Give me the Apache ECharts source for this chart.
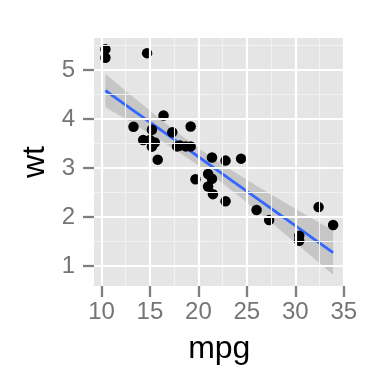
<!DOCTYPE html>
<html><head><meta charset="utf-8">
<script src="https://cdn.jsdelivr.net/npm/echarts@6/dist/echarts.min.js"></script>
<style>html,body{margin:0;padding:0;background:#fff}#c{width:384px;height:384px}</style>
</head><body><div id="c"></div>
<script>
// mtcars: mpg vs wt
const mpg = [21,21,22.8,21.4,18.7,18.1,14.3,24.4,22.8,19.2,17.8,16.4,17.3,15.2,10.4,10.4,14.7,32.4,30.4,33.9,21.5,15.5,15.2,13.3,19.2,27.3,26,30.4,15.8,19.7,15,21.4];
const wt = [2.62,2.875,2.32,3.215,3.44,3.46,3.57,3.19,3.15,3.44,3.44,4.07,3.73,3.78,5.25,5.424,5.345,2.2,1.615,1.835,2.465,3.52,3.435,3.84,3.845,1.935,2.14,1.513,3.17,2.77,3.57,2.78];
// linear fit with 95% confidence band
const fitMpg = [10.4,12,14,16,18,20,22,24,26,28,30,32,33.9];
const fitWt = [4.582,4.356,4.074,3.793,3.511,3.229,2.947,2.665,2.384,2.102,1.820,1.538,1.271];
const fitLower = [4.240,4.054,3.818,3.576,3.322,3.050,2.759,2.451,2.132,1.804,1.472,1.138,0.819];
const fitUpper = [4.924,4.658,4.330,4.010,3.700,3.408,3.135,2.879,2.636,2.400,2.168,1.938,1.723];
const xTicks = [10,15,20,25,30,35];
const yTicks = [1,2,3,4,5];
const xMinor = [12.5,17.5,22.5,27.5,32.5];
const yMinor = [1.5,2.5,3.5,4.5,5.5];

const chart = echarts.init(document.getElementById('c'), null, {renderer:'canvas'});
const font = 'Liberation Sans';
const gridLines = [];
xMinor.forEach(v => gridLines.push({xAxis:v, lineStyle:{color:'#F2F2F2', width:1.1, type:'solid'}}));
yMinor.forEach(v => gridLines.push({yAxis:v, lineStyle:{color:'#F2F2F2', width:1.1, type:'solid'}}));
xTicks.forEach(v => gridLines.push({xAxis:v, lineStyle:{color:'#FFFFFF', width:2.2, type:'solid'}}));
yTicks.forEach(v => gridLines.push({yAxis:v, lineStyle:{color:'#FFFFFF', width:2.2, type:'solid'}}));

const bandPts = fitMpg.map((x,i)=>[x,fitUpper[i]]).concat(fitMpg.map((x,i)=>[x,fitLower[i]]).reverse());

chart.setOption({
  animation:false,
  grid:{left:94, right:39.5, top:38, bottom:98, show:true, backgroundColor:'#E5E5E5', borderWidth:0},
  xAxis:{type:'value', min:9.225, max:35.075,
    name:'mpg', nameLocation:'middle', nameGap:47,
    nameTextStyle:{fontFamily:font, fontSize:32, color:'#000'},
    axisLine:{show:false},
    axisTick:{show:true, length:11, customValues:xTicks, lineStyle:{color:'#7F7F7F', width:2.3}},
    axisLabel:{customValues:xTicks, fontFamily:font, fontSize:24, color:'#757575', margin:14},
    splitLine:{show:false}},
  yAxis:{type:'value', min:0.589, max:5.654,
    name:'wt', nameLocation:'middle', nameGap:37,
    nameTextStyle:{fontFamily:font, fontSize:32, color:'#000'},
    axisLine:{show:false},
    axisTick:{show:true, length:11, customValues:yTicks, lineStyle:{color:'#7F7F7F', width:2.3}},
    axisLabel:{customValues:yTicks, fontFamily:font, fontSize:24, color:'#757575', margin:19},
    splitLine:{show:false}},
  series:[
    {type:'scatter', data:[], z:1, silent:true,
     markLine:{silent:true, symbol:'none', label:{show:false}, animation:false, data:gridLines}},
    {type:'custom', z:2, silent:true, clip:true, data:[[0,0]],
     renderItem:function(params, api){
       const pts = bandPts.map(p=>api.coord(p));
       return {type:'polygon', shape:{points:pts}, style:{fill:'rgba(153,153,153,0.4)'}};
     }},
    {type:'line', z:3, data:fitMpg.map((x,i)=>[x,fitWt[i]]), showSymbol:false, smooth:false,
     lineStyle:{color:'#3366FF', width:2.8}},
    {type:'scatter', z:4, data:mpg.map((x,i)=>[x,wt[i]]), symbolSize:10.5,
     itemStyle:{color:'#000', opacity:1}}
  ]
});
</script></body></html>
